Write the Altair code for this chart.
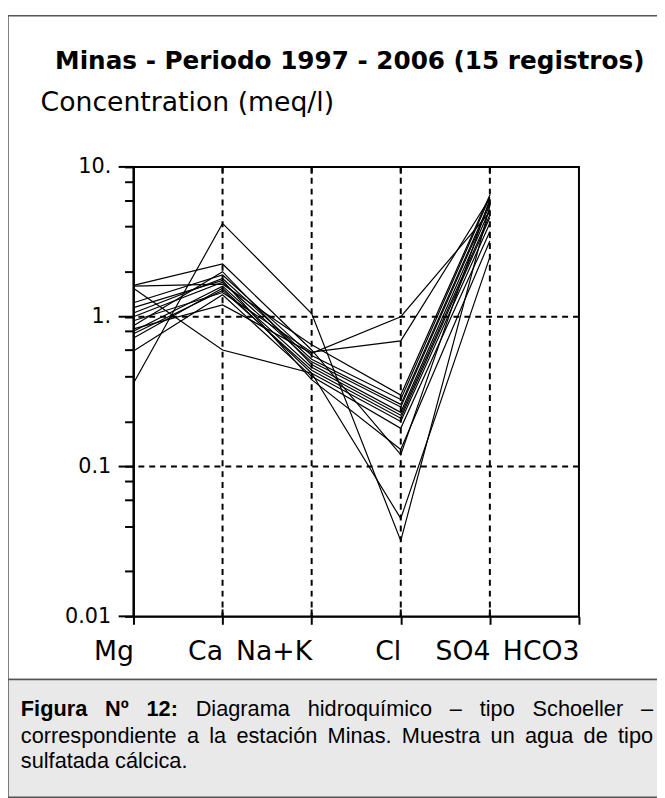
import altair as alt
import pandas as pd

# ---------------- data ----------------
ions = ["Mg", "Ca", "Na+K", "Cl", "SO4", "HCO3"]
mg  = [0.36, 1.55, 0.83, 0.94, 1.62, 1.60, 1.24, 1.06, 1.00, 0.87, 0.80, 0.77, 0.72, 0.59, 1.15]
ca  = [4.20, 0.60, 1.20, 1.45, 2.25, 1.65, 1.90, 1.80, 1.70, 2.00, 1.60, 1.50, 1.55, 1.40, 1.75]
nak = [1.05, 0.42, 0.57, 0.58, 0.60, 0.65, 0.55, 0.52, 0.50, 0.48, 0.46, 0.44, 0.42, 0.40, 0.38]
cl  = [0.032, 0.045, 1.00, 0.69, 0.12, 0.30, 0.28, 0.26, 0.25, 0.23, 0.22, 0.21, 0.20, 0.18, 0.13]
so4 = [5.5, 2.5, 5.0, 6.2, 6.1, 6.5, 6.3, 5.8, 5.6, 5.2, 4.8, 4.6, 4.2, 3.7, 3.2]

y_ticks = [0.01, 0.02, 0.04, 0.06, 0.08, 0.1, 0.2, 0.4, 0.6, 0.8, 1, 2, 4, 6, 8, 10]
y_major = [0.01, 0.1, 1, 10]
y_grid = [0.1, 1]
x_grid = ["Ca", "Na+K", "Cl", "SO4"]

title_text = "Minas - Periodo 1997 - 2006 (15 registros)"
ylabel_text = "Concentration (meq/l)"
cap_line1 = [("Figura", True), ("Nº", True), ("12:", True), ("Diagrama", False),
             ("hidroquímico", False), ("–", False), ("tipo", False),
             ("Schoeller", False), ("–", False)]
cap_line2 = [(w, False) for w in "correspondiente a la estación Minas. Muestra un agua de tipo".split()]
cap_line3 = "sulfatada cálcica."

rows = []
for i in range(len(mg)):
    for ion, arr in zip(ions[:5], [mg, ca, nak, cl, so4]):
        rows.append({"serie": i + 1, "ion": ion, "meq": arr[i]})
df = pd.DataFrame(rows)

# ---------------- layout ----------------
W, H = 451, 455
X0, Y0 = 135, 164          # page position of plot origin


def px(x):
    return x - X0


def py(y):
    return y - Y0


dummy = pd.DataFrame({"a": [0]})
xs = alt.Scale(type="point", domain=ions, padding=0)
ys = alt.Scale(type="log", domain=[0.01, 10], nice=False)

label_expr = ("datum.value == 10 ? '10.' : datum.value == 1 ? '1.' : "
              "datum.value == 0.1 ? '0.1' : datum.value == 0.01 ? '0.01' : ''")

layers = []

# outer frame and caption box
layers.append(alt.Chart(dummy).mark_rect(fillOpacity=0, stroke="#555555", strokeWidth=1.5).encode(
    x=alt.value(px(8)), x2=alt.value(px(668)), y=alt.value(py(11)), y2=alt.value(py(683))))
layers.append(alt.Chart(dummy).mark_rect(fill="#e9e9e9", stroke="#555555", strokeWidth=1.5).encode(
    x=alt.value(px(8)), x2=alt.value(px(668)), y=alt.value(py(683)), y2=alt.value(py(802))))

# dashed grid
layers.append(alt.Chart(pd.DataFrame({"ion": x_grid})).mark_rule(
    color="black", strokeWidth=2, strokeDash=[6, 5]).encode(
    x=alt.X("ion:N", scale=xs, sort=ions)))
layers.append(alt.Chart(pd.DataFrame({"v": y_grid})).mark_rule(
    color="black", strokeWidth=2, strokeDash=[6, 5]).encode(
    y=alt.Y("v:Q", scale=ys)))

# data lines
layers.append(alt.Chart(df).mark_line(color="black", strokeWidth=1.2).encode(
    x=alt.X("ion:N", scale=xs, sort=ions, title=None,
            axis=alt.Axis(labelAngle=0, labelFont="DejaVu Sans", labelFontSize=27,
                          labelColor="black", tickSize=8, tickWidth=2, tickColor="black",
                          domainColor="black", domainWidth=2, labelPadding=28, grid=False)),
    y=alt.Y("meq:Q", scale=ys, title=None,
            axis=alt.Axis(values=y_ticks, labelExpr=label_expr, labelOverlap=False,
                          labelFont="DejaVu Sans", labelFontSize=21, labelColor="black",
                          tickSize=9, tickWidth=2, tickColor="black", domainColor="black",
                          domainWidth=2, labelPadding=14, grid=False)),
    detail="serie:N"))

# inner ticks top / bottom, major y ticks
layers.append(alt.Chart(pd.DataFrame({"ion": x_grid})).mark_rule(color="black", strokeWidth=2).encode(
    x=alt.X("ion:N", scale=xs, sort=ions), y=alt.value(0), y2=alt.value(7)))
layers.append(alt.Chart(pd.DataFrame({"ion": x_grid})).mark_rule(color="black", strokeWidth=2).encode(
    x=alt.X("ion:N", scale=xs, sort=ions), y=alt.value(H - 7), y2=alt.value(H)))
layers.append(alt.Chart(pd.DataFrame({"v": y_major})).mark_rule(color="black", strokeWidth=2).encode(
    y=alt.Y("v:Q", scale=ys), x=alt.value(-15), x2=alt.value(0)))

# titles
layers.append(alt.Chart(dummy).mark_text(
    text=title_text, font="DejaVu Sans", fontWeight="bold", fontSize=25,
    align="center", baseline="middle", color="black").encode(
    x=alt.value(px(354)), y=alt.value(py(57))))
layers.append(alt.Chart(dummy).mark_text(
    text=ylabel_text, font="DejaVu Sans", fontSize=27,
    align="left", baseline="middle", color="black").encode(
    x=alt.value(px(41)), y=alt.value(py(99))))

# caption (justified word placement using Arial metrics)
REG = dict(zip("abcdefghijklmnopqrstuvwxyz", [556, 556, 500, 556, 556, 278, 556, 556, 222, 222, 500, 222, 833,
                                              556, 556, 556, 556, 333, 500, 278, 556, 500, 722, 500, 500, 500]))
REG.update({"D": 722, "F": 611, "M": 833, "N": 722, "S": 667, ".": 278, ":": 278, "–": 556,
            "º": 365, "í": 278, "á": 556, "ó": 556, " ": 278, "1": 556, "2": 556})
BOLD = dict(REG)
BOLD.update({"i": 278, "g": 611, "u": 611, "r": 389, "N": 722, ":": 333, "F": 611})
CAP_FS = 22
LEFT, RIGHT = 21, 661


def width(word, bold):
    t = BOLD if bold else REG
    return sum(t.get(c, 556) for c in word) * CAP_FS / 1000


def justified(words, baseline_y):
    total = sum(width(w, b) for w, b in words)
    gap = (RIGHT - LEFT - total) / (len(words) - 1)
    x = LEFT
    out = []
    for w, b in words:
        out.append(alt.Chart(dummy).mark_text(
            text=w, font="Liberation Sans", fontSize=CAP_FS,
            fontWeight="bold" if b else "normal", align="left",
            baseline="alphabetic", color="black").encode(
            x=alt.value(px(x)), y=alt.value(py(baseline_y))))
        x += width(w, b) + gap
    return out


layers += justified(cap_line1, 720)
layers += justified(cap_line2, 747)
layers.append(alt.Chart(dummy).mark_text(
    text=cap_line3, font="Liberation Sans", fontSize=CAP_FS, align="left",
    baseline="alphabetic", color="black").encode(
    x=alt.value(px(LEFT)), y=alt.value(py(773))))

chart = alt.layer(*layers).properties(
    width=W, height=H,
    autosize=alt.AutoSizeParams(type="none"),
    padding={"left": X0 - 8, "top": Y0 - 8, "right": 665 - 8 - (X0 - 8) - W,
             "bottom": 798 - 8 - (Y0 - 8) - H},
).configure_view(stroke="black", strokeWidth=2)

chart.save("out.html", embed_options={"renderer": "svg", "actions": False})
